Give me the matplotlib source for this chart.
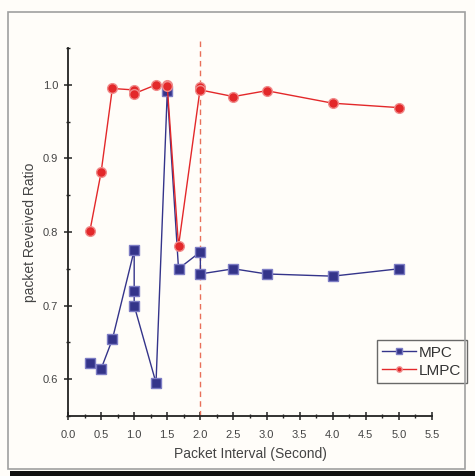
import matplotlib
matplotlib.use("Agg")
import matplotlib.pyplot as plt
from matplotlib.patches import Rectangle
from matplotlib.ticker import MultipleLocator

# ── Data ──────────────────────────────────────────────────────────────────────
mpc_x = [0.33, 0.5, 0.67, 1.0, 1.0, 1.0, 1.33, 1.5, 1.67, 2.0, 2.0, 2.5, 3.0, 4.0, 5.0]
mpc_y = [0.622, 0.614, 0.654, 0.775, 0.720, 0.700, 0.595, 0.991, 0.750, 0.773, 0.743, 0.750, 0.743, 0.740, 0.750]

lmpc_x = [0.33, 0.5, 0.67, 1.0, 1.0, 1.33, 1.5, 1.5, 1.67, 2.0, 2.0, 2.5, 3.0, 4.0, 5.0]
lmpc_y = [0.801, 0.881, 0.995, 0.993, 0.988, 1.000, 1.000, 0.998, 0.781, 0.997, 0.993, 0.984, 0.992, 0.975, 0.969]

marker_line = 2.0

BG = "#fffdf9"
BLUE = "#34348a"
RED = "#e3282a"

plt.rcParams["font.family"] = ["Liberation Sans", "DejaVu Sans"]

fig = plt.figure(figsize=(4.75, 4.76), dpi=100)
fig.patch.set_facecolor(BG)

# outer frame + dark band at bottom
fig.patches.append(Rectangle((8 / 475, 1 - 469 / 476), 457 / 475, 457 / 476,
                             transform=fig.transFigure, facecolor="none",
                             edgecolor="#a0a0a0", linewidth=1.2))
fig.patches.append(Rectangle((10 / 475, 0), 1, 5 / 476, transform=fig.transFigure,
                             facecolor="#111111", edgecolor="none"))

ax = fig.add_axes([68 / 475, 1 - 416 / 476, 364 / 475, 368 / 476])
ax.set_facecolor(BG)

ax.plot(mpc_x, mpc_y, color=BLUE, lw=1.0, marker="s", ms=7,
        mfc=BLUE, mec="#7c7cc4", mew=1.0, label="MPC", zorder=3)
ax.plot(lmpc_x, lmpc_y, color=RED, lw=1.0, marker="o", ms=7,
        mfc=RED, mec="#f08a8a", mew=1.0, label="LMPC", zorder=3)

ax.axvline(marker_line, ymin=0, ymax=1.03, color="#e8705a", lw=1.0,
           ls=(0, (4, 3)), zorder=2, clip_on=False)

ax.set_xlim(0, 5.5)
ax.set_ylim(0.55, 1.05)
ax.xaxis.set_major_locator(MultipleLocator(0.5))
ax.xaxis.set_minor_locator(MultipleLocator(0.25))
ax.yaxis.set_major_locator(MultipleLocator(0.1))
ax.yaxis.set_minor_locator(MultipleLocator(0.05))

for s in ("top", "right"):
    ax.spines[s].set_visible(False)
for s in ("left", "bottom"):
    ax.spines[s].set_color("#222222")
    ax.spines[s].set_linewidth(1.3)

ax.tick_params(which="major", direction="inout", length=6, width=1.1,
               colors="#222222", labelsize=8, labelcolor="#444444", pad=4)
ax.tick_params(axis="x", which="major", pad=7)
ax.tick_params(which="minor", direction="inout", length=3.5, width=1.0,
               colors="#222222")
ax.set_xticks([0.0, 0.5, 1.0, 1.5, 2.0, 2.5, 3.0, 3.5, 4.0, 4.5, 5.0, 5.5])
ax.set_xticklabels(["0.0", "0.5", "1.0", "1.5", "2.0", "2.5", "3.0", "3.5",
                    "4.0", "4.5", "5.0", "5.5"])
ax.set_yticks([0.6, 0.7, 0.8, 0.9, 1.0])

ax.set_xlabel("Packet Interval (Second)", fontsize=10, color="#444444", labelpad=5)
ax.set_ylabel("packet Reveived Ratio", fontsize=10, color="#444444", labelpad=4)

leg = ax.legend(loc="lower left", bbox_to_anchor=(0.849, 0.09),
                fontsize=11, frameon=True, fancybox=False, borderpad=0.35,
                handlelength=2.2, handletextpad=0.2, labelspacing=0.25,
                borderaxespad=0, markerscale=0.55)
leg.get_frame().set_edgecolor("#444444")
leg.get_frame().set_facecolor(BG)
leg.get_frame().set_linewidth(1.0)
for t in leg.get_texts():
    t.set_color("#333333")

fig.savefig("out.png", dpi=100, facecolor=BG)
